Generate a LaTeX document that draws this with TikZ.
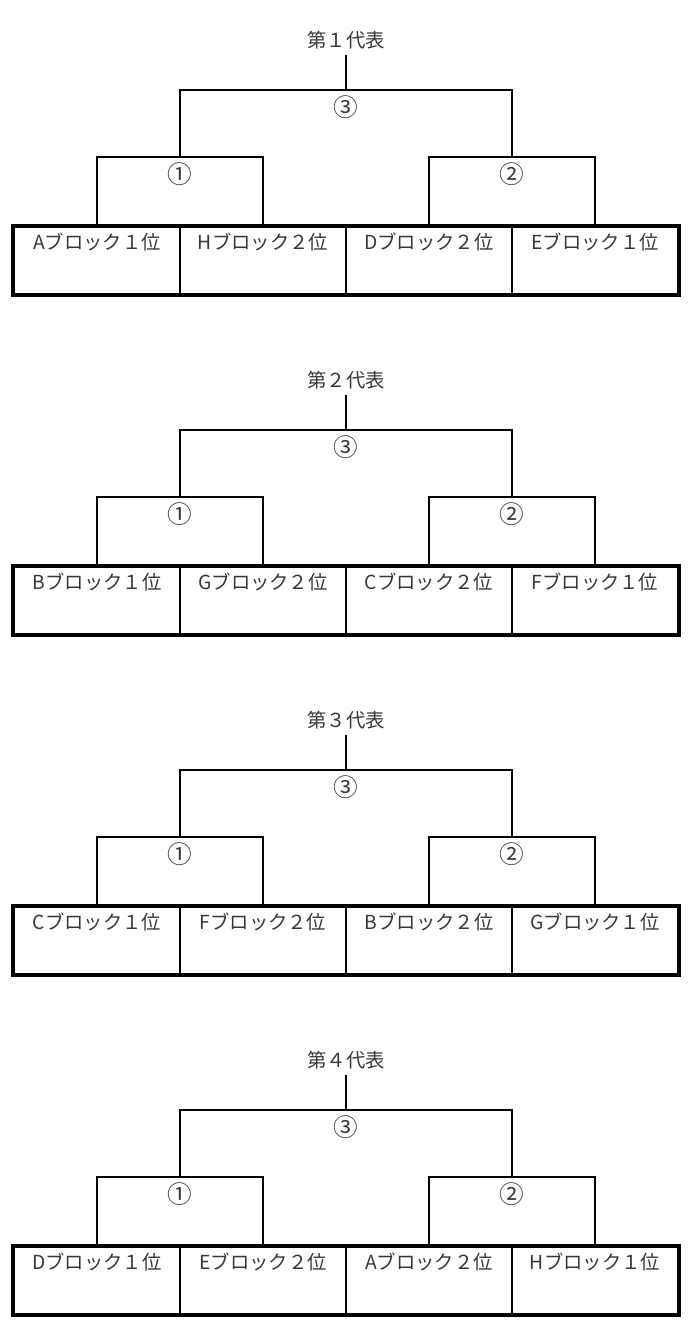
\documentclass[tikz,border=0pt]{standalone}
\usepackage{fontspec}
\setmainfont{Noto Sans CJK JP}
\usetikzlibrary{positioning}
\definecolor{mygray}{RGB}{55,55,55}
\tikzset{
  blockbox/.style={draw, line width=1.5pt, minimum width=3.32cm, inner xsep=0pt,
    inner ysep=0pt, text height=0.45cm, text depth=0.89cm, text=mygray,
    font=\fontsize{11}{13}\selectfont},
  matchno/.style={inner sep=0, text=mygray, font=\fontsize{14}{16}\selectfont},
  reptitle/.style={inner sep=3pt, text=mygray, font=\fontsize{11}{13}\selectfont},
  bracket/.style={line width=1.1pt, draw=black},
  frame/.style={line width=1.7pt, draw=black}
}
\begin{document}
\begin{tikzpicture}[x=0.02cm, y=-0.02cm]
\useasboundingbox (0,0) rectangle (700,1326);

\foreach \rep/\pa/\pb/\pc/\pd [count=\i from 0] in
  {１/A/H/D/E, ２/B/G/C/F, ３/C/F/B/G, ４/D/E/A/H}{
  \pgfmathsetmacro{\yo}{340*\i}

  % blocks
  \node [blockbox] (p1\i) at (97,260.5+\yo) {\pa{}ブロック１位};
  \node [blockbox] (p2\i) at (263,260.5+\yo) {\pb{}ブロック２位};
  \node [blockbox] (p3\i) at (429,260.5+\yo) {\pc{}ブロック２位};
  \node [blockbox] (p4\i) at (595,260.5+\yo) {\pd{}ブロック１位};
  \draw [frame] (p1\i.north west) rectangle (p4\i.south east);

  % title and matches
  \node [reptitle] (t\i) at (346,40+\yo) {第{\rep}代表};
  \node [matchno] (m3\i) at (346,107+\yo) {③};
  \node [matchno] (m1\i) at (180,174+\yo) {①};
  \node [matchno] (m2\i) at (512,174+\yo) {②};

  \coordinate (k1\i) at (180,157+\yo);
  \coordinate (k2\i) at (512,157+\yo);
  \coordinate (k3\i) at (346,90+\yo);

  \draw [bracket] (p1\i.north) |- (k1\i) -| (p2\i.north);
  \draw [bracket] (p3\i.north) |- (k2\i) -| (p4\i.north);
  \draw [bracket] (k1\i) |- (k3\i) -| (k2\i);
  \draw [bracket] (k3\i) -- (t\i.south);
}

\end{tikzpicture}
\end{document}
